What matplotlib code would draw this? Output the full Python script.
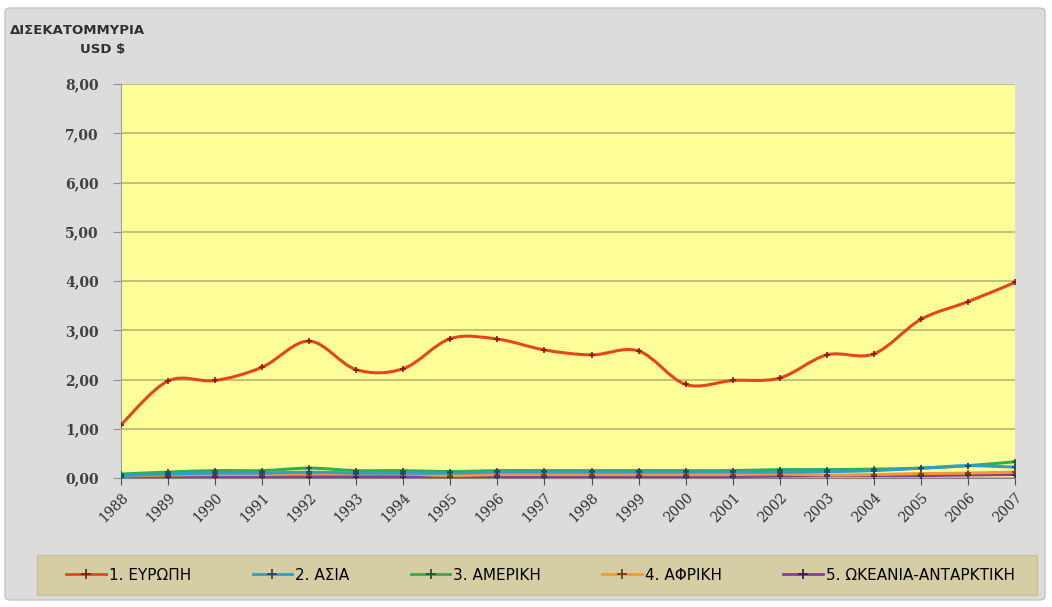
import matplotlib.pyplot as plt
from matplotlib.path import Path
from matplotlib.patches import PathPatch, FancyBboxPatch, Rectangle
from matplotlib.lines import Line2D

years = list(range(1988, 2008))
europe = [1.08, 1.97, 1.98, 2.25, 2.78, 2.20, 2.22, 2.83, 2.82, 2.60,
          2.50, 2.58, 1.90, 1.98, 2.03, 2.50, 2.52, 3.22, 3.58, 3.97]
asia = [0.05, 0.08, 0.10, 0.10, 0.12, 0.10, 0.10, 0.10, 0.12, 0.12,
        0.12, 0.12, 0.12, 0.12, 0.12, 0.13, 0.15, 0.20, 0.25, 0.22]
america = [0.08, 0.12, 0.15, 0.15, 0.20, 0.15, 0.15, 0.13, 0.15, 0.15,
           0.15, 0.15, 0.15, 0.15, 0.17, 0.17, 0.18, 0.20, 0.25, 0.33]
africa = [0.04, 0.06, 0.07, 0.07, 0.08, 0.08, 0.08, 0.05, 0.07, 0.07,
          0.07, 0.07, 0.07, 0.07, 0.08, 0.06, 0.07, 0.09, 0.10, 0.12]
oceania = [0.02, 0.02, 0.03, 0.03, 0.03, 0.03, 0.03, 0.03, 0.03, 0.03,
           0.03, 0.03, 0.03, 0.03, 0.04, 0.05, 0.05, 0.05, 0.06, 0.07]

names = ['1. ΕΥΡΩΠΗ', '2. ΑΣΙΑ', '3. ΑΜΕΡΙΚΗ', '4. ΑΦΡΙΚΗ', '5. ΩΚΕΑΝΙΑ-ΑΝΤΑΡΚΤΙΚΗ']
colors = ['#e4461c', '#2a9fd0', '#2fae4e', '#f09a30', '#8a3c9a']
mcolors = ['#8a1a10', '#1a4a70', '#1a5a30', '#6a4020', '#3a1a50']
series = [europe, asia, america, africa, oceania]


def smooth_path(x, y):
    # excel-like smoothed line: cubic bezier through every point
    n = len(x)
    verts = [(x[0], y[0])]
    codes = [Path.MOVETO]
    for i in range(n - 1):
        x0, y0 = (x[i - 1], y[i - 1]) if i > 0 else (x[i], y[i])
        x3, y3 = (x[i + 2], y[i + 2]) if i + 2 < n else (x[i + 1], y[i + 1])
        c1 = (x[i] + (x[i + 1] - x0) / 6, y[i] + (y[i + 1] - y0) / 6)
        c2 = (x[i + 1] - (x3 - x[i]) / 6, y[i + 1] - (y3 - y[i]) / 6)
        verts += [c1, c2, (x[i + 1], y[i + 1])]
        codes += [Path.CURVE4] * 3
    return Path(verts, codes)


fig = plt.figure(figsize=(10.52, 6.07), dpi=100, facecolor='white')
fig.patches.append(FancyBboxPatch((5 / 1052, 7 / 607), 1040 / 1052, 592 / 607,
                                  boxstyle='round,pad=0,rounding_size=0.006',
                                  transform=fig.transFigure, facecolor='#dcdcdc',
                                  edgecolor='#c4c4c4', lw=1, zorder=-10))
fig.patches.append(Rectangle((37 / 1052, 1 - 595 / 607), 1000 / 1052, 40 / 607,
                             transform=fig.transFigure, facecolor='#d5cda4',
                             edgecolor='#c9c094', lw=1, zorder=-5))

ax = fig.add_axes([121 / 1052, 1 - 478 / 607, 894 / 1052, 394 / 607])
ax.set_facecolor('#ffff99')

for s, c, mc in zip(series[::-1], colors[::-1], mcolors[::-1]):
    ax.add_patch(PathPatch(smooth_path(years, s), facecolor='none', edgecolor=c, lw=2.2, zorder=3))
    ax.plot(years, s, linestyle='none', marker='+', markersize=5, mew=1.2, color=mc, zorder=4)

ax.set_xlim(1988, 2007)
ax.set_ylim(0, 8)
ax.set_yticks(range(0, 9))
ax.set_yticklabels(['%d,00' % v for v in range(0, 9)], fontfamily='DejaVu Serif',
                   fontweight='bold', fontsize=10, color='#404040')
ax.set_xticks(years)
ax.set_xticklabels([str(y) for y in years], rotation=45, ha='right', va='top',
                   rotation_mode='anchor', fontfamily='DejaVu Serif', fontsize=10, color='#303030')
ax.grid(axis='y', color='#b0b070', lw=1.1)
ax.set_axisbelow(True)
ax.tick_params(axis='y', length=6, color='#909090', pad=10)
ax.tick_params(axis='x', length=5, color='#505050', pad=4)
for side in ['top', 'right']:
    ax.spines[side].set_visible(False)
ax.spines['left'].set_color('#a0a0a0')
ax.spines['bottom'].set_color('#808080')

fig.text(10 / 1052, 1 - 30 / 607, 'ΔΙΣΕΚΑΤΟΜΜΥΡΙΑ', fontsize=9.5, fontweight='bold',
         color='#303030', va='center', ha='left')
fig.text(103 / 1052, 1 - 50 / 607, 'USD $', fontsize=9.5, fontweight='bold',
         color='#303030', va='center', ha='center')

handles = [Line2D([], [], color=c, lw=2, marker='+', markersize=7, mec=mc, mew=1.3)
           for c, mc in zip(colors, mcolors)]
fig.legend(handles, names, loc='center', bbox_to_anchor=(0.514, 1 - 575 / 607), ncol=5,
           frameon=False, handlelength=2.6, handletextpad=0.2, columnspacing=4.0,
           prop={'family': ['Liberation Sans Narrow', 'DejaVu Sans'], 'size': 11})

fig.savefig('out.png', dpi=100, facecolor='white')
